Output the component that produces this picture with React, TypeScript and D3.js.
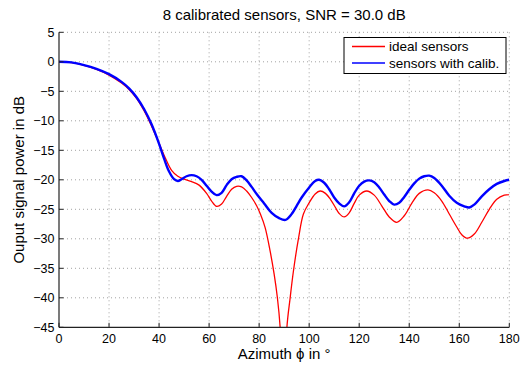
import React from "react";
import * as d3 from "d3";

const TITLE = "8 calibrated sensors, SNR = 30.0 dB";
const X_LABEL = "Azimuth \u03D5 in  \u00B0";
const Y_LABEL = "Ouput signal power in dB";
const SERIES_NAMES = ["ideal sensors", "sensors with calib."];
const X_TICKS = [0, 20, 40, 60, 80, 100, 120, 140, 160, 180];
const Y_TICKS = [5, 0, -5, -10, -15, -20, -25, -30, -35, -40, -45];

const idealAz = [0, 5, 10, 15, 20, 25, 28, 31, 34, 37, 40, 42.5, 45, 47.5, 50, 53, 56, 59, 61, 63, 65, 67, 69, 71, 73, 75, 77, 79, 80.5, 82.4, 84.4, 86, 87.3, 88.4, 89.75, 91.1, 92.4, 93.7, 95.7, 97.7, 100, 102.4, 104.4, 106.5, 108.5, 110.5, 112, 114, 116, 118, 120, 123, 126, 129, 132, 135, 138, 141, 144, 147.5, 150, 153, 156, 159, 161, 163.3, 166, 169, 172, 175, 178, 180];
const idealDb = [0, -0.15, -0.6, -1.3, -2.25, -3.6, -4.7, -6.2, -8.3, -10.9, -13.8, -16.3, -18.4, -19.4, -19.9, -20.3, -20.9, -22.3, -23.6, -24.5, -24.1, -22.8, -21.6, -21.1, -21.2, -21.9, -23.0, -24.4, -25.8, -28.1, -32.1, -36, -40, -45, -60, -45, -40, -35.5, -30, -25.8, -23.9, -22.4, -21.9, -22.3, -23.3, -24.7, -25.7, -26.3, -25.6, -24.0, -22.6, -21.9, -22.6, -24.4, -26.3, -27.2, -26.1, -24.0, -22.3, -21.7, -22.2, -23.6, -25.8, -28.0, -29.3, -29.9, -29.2, -27.2, -25.0, -23.3, -22.6, -22.5];

const calibAz = [0, 5, 10, 15, 20, 25, 28, 31, 34, 37, 40, 42, 44, 46, 47.5, 49, 51, 53, 55, 57, 59, 61, 63, 65, 67, 69, 71, 73, 75, 77, 79, 82, 85, 88, 90.5, 93, 95, 97, 100, 102.4, 104, 106, 108, 110, 112, 114, 116, 118, 120, 122, 124, 126, 128, 130, 132, 134, 136, 138, 140, 142, 144, 146, 148, 150, 153, 156, 159, 162, 164, 166, 169, 172, 175, 178, 180];
const calibDb = [0, -0.1, -0.55, -1.2, -2.1, -3.4, -4.5, -6.0, -8.0, -10.6, -13.9, -16.4, -18.6, -19.9, -20.2, -19.9, -19.4, -19.2, -19.4, -20.0, -21.0, -22.0, -22.6, -22.2, -20.9, -19.9, -19.5, -19.4, -20.1, -21.2, -22.4, -24.0, -25.6, -26.5, -26.8, -25.8, -24.4, -23.0, -21.3, -20.2, -20.0, -20.5, -21.6, -23.0, -24.0, -24.5, -23.8, -22.3, -21.0, -20.3, -20.1, -20.4, -21.3, -22.5, -23.6, -24.2, -23.9, -22.9, -21.7, -20.6, -19.8, -19.4, -19.3, -19.7, -21.0, -22.7, -23.9, -24.5, -24.7, -24.2, -22.8, -21.6, -20.7, -20.2, -20.0];

const W = 521, H = 365;
const L = 59, R = 509.3, T = 32.3, B = 327.3;
const FONT = "'Liberation Sans', Arial, Helvetica, sans-serif";

export default function App() {
  const x = d3.scaleLinear().domain([0, 180]).range([L, R]);
  const y = d3.scaleLinear().domain([-45, 5]).range([B, T]);
  const line = d3
    .line<[number, number]>()
    .x((d) => x(d[0]))
    .y((d) => y(d[1]))
    .curve(d3.curveCatmullRom.alpha(0.5));
  const ideal = idealAz.map((a, i) => [a, idealDb[i]] as [number, number]);
  const calib = calibAz.map((a, i) => [a, calibDb[i]] as [number, number]);
  const tickLen = 4.5;

  return (
    <svg width={W} height={H} style={{ position: "absolute", left: 0, top: 0, background: "#fff" }} fontFamily={FONT}>
      <defs>
        <clipPath id="plotclip">
          <rect x={L} y={T} width={R - L} height={B - T} />
        </clipPath>
      </defs>
      <rect x={0} y={0} width={W} height={H} fill="#fff" />
      {/* grid */}
      {X_TICKS.filter((t) => t !== 0).map((t) => (
        <line key={"gx" + t} x1={x(t)} x2={x(t)} y1={T} y2={B} stroke="#8a8a8a" strokeWidth={0.8} strokeDasharray="1 3" />
      ))}
      {Y_TICKS.filter((t) => t !== -45).map((t) => (
        <line key={"gy" + t} x1={L} x2={R} y1={y(t)} y2={y(t)} stroke="#8a8a8a" strokeWidth={0.8} strokeDasharray="1 3" />
      ))}
      {/* data */}
      <g clipPath="url(#plotclip)">
        <path d={line(ideal) || ""} fill="none" stroke="#ff0000" strokeWidth={1.3} />
        <path d={line(calib) || ""} fill="none" stroke="#0000ff" strokeWidth={2.4} />
      </g>
      {/* axes */}
      <line x1={L} x2={R} y1={B} y2={B} stroke="#222" strokeWidth={1.2} />
      <line x1={L} x2={L} y1={T} y2={B} stroke="#222" strokeWidth={1.2} />
      {X_TICKS.map((t) => (
        <g key={"xt" + t}>
          <line x1={x(t)} x2={x(t)} y1={B} y2={B - tickLen} stroke="#222" strokeWidth={1} />
          <text x={x(t)} y={342.5} textAnchor="middle" fontSize={12.5} fill="#000">
            {t}
          </text>
        </g>
      ))}
      {Y_TICKS.map((t) => (
        <g key={"yt" + t}>
          <line x1={L} x2={L + tickLen} y1={y(t)} y2={y(t)} stroke="#222" strokeWidth={1} />
          <text x={54.5} y={y(t)} dy="0.36em" textAnchor="end" fontSize={12.5} fill="#000">
            {t < 0 ? "\u2212" + Math.abs(t) : String(t)}
          </text>
        </g>
      ))}
      {/* title and labels */}
      <text x={(L + R) / 2} y={20} textAnchor="middle" fontSize={15} fill="#000">
        {TITLE}
      </text>
      <text x={(L + R) / 2} y={359} textAnchor="middle" fontSize={15} fill="#000">
        {X_LABEL}
      </text>
      <text transform={`translate(24, ${(T + B) / 2}) rotate(-90)`} textAnchor="middle" fontSize={15} fill="#000">
        {Y_LABEL}
      </text>
      {/* legend */}
      <g>
        <rect x={344} y={37.5} width={162} height={36} fill="#fff" stroke="#000" strokeWidth={1} />
        <line x1={352} x2={385} y1={46.5} y2={46.5} stroke="#ff0000" strokeWidth={1.3} />
        <line x1={352} x2={385} y1={63} y2={63} stroke="#0000ff" strokeWidth={1.3} />
        <text x={389} y={51.3} fontSize={13.5} fill="#000">{SERIES_NAMES[0]}</text>
        <text x={389} y={67.8} fontSize={13.5} fill="#000">{SERIES_NAMES[1]}</text>
      </g>
    </svg>
  );
}
